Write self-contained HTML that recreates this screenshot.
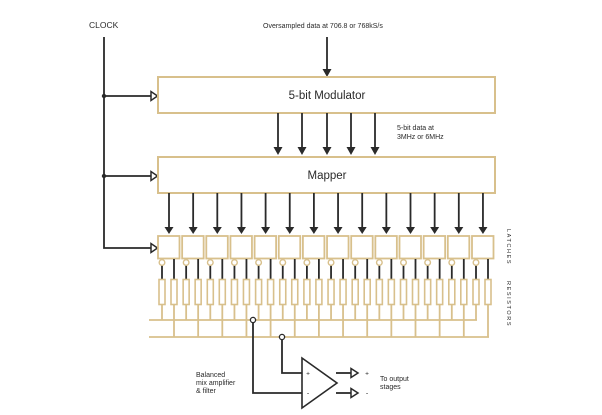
<!DOCTYPE html>
<html>
<head>
<meta charset="utf-8">
<style>
html,body{margin:0;padding:0;background:#fff;}
svg{display:block;}
text{font-family:"Liberation Sans",sans-serif;fill:#2a2a2a;}
</style>
</head>
<body>
<svg width="602" height="415" viewBox="0 0 602 415" xmlns="http://www.w3.org/2000/svg">
<rect width="602" height="415" fill="#fff"/>

<!-- Labels top -->
<text x="89" y="28" font-size="8.5">CLOCK</text>
<text x="263" y="28" font-size="7">Oversampled data at 706.8 or 768kS/s</text>

<!-- Clock line -->
<g stroke="#2a2a2a" stroke-width="1.8" fill="none">
  <polyline points="104,37 104,248 151,248"/>
  <line x1="104" y1="96" x2="151" y2="96"/>
  <line x1="104" y1="176" x2="151" y2="176"/>
</g>
<g stroke="#2a2a2a" stroke-width="1.5" fill="#fff">
  <polygon points="151,91.5 151,100.5 157.5,96"/>
  <polygon points="151,171.5 151,180.5 157.5,176"/>
  <polygon points="151,243.5 151,252.5 157.5,248"/>
</g>
<circle cx="104" cy="96" r="2.2" fill="#2a2a2a"/>
<circle cx="104" cy="176" r="2.2" fill="#2a2a2a"/>

<!-- Input arrow -->
<line x1="327" y1="37" x2="327" y2="70" stroke="#2a2a2a" stroke-width="1.8"/>
<polygon points="322.5,69 331.5,69 327,77" fill="#2a2a2a"/>

<!-- Modulator box -->
<rect x="158" y="77" width="337" height="36" fill="#fff" stroke="#d8c08c" stroke-width="2"/>
<text x="327" y="99" font-size="11.5" text-anchor="middle">5-bit Modulator</text>

<!-- modulator arrows -->
<g stroke="#2a2a2a" stroke-width="1.8">
  <line x1="278" y1="113" x2="278" y2="149"/>
  <line x1="302" y1="113" x2="302" y2="149"/>
  <line x1="327" y1="113" x2="327" y2="149"/>
  <line x1="351" y1="113" x2="351" y2="149"/>
  <line x1="375" y1="113" x2="375" y2="149"/>
</g>
<g fill="#2a2a2a">
  <polygon points="273.5,147 282.5,147 278,155"/>
  <polygon points="297.5,147 306.5,147 302,155"/>
  <polygon points="322.5,147 331.5,147 327,155"/>
  <polygon points="346.5,147 355.5,147 351,155"/>
  <polygon points="370.5,147 379.5,147 375,155"/>
</g>
<text x="397" y="130" font-size="7">5-bit data at</text>
<text x="397" y="139" font-size="7">3MHz or 6MHz</text>

<!-- Mapper box -->
<rect x="158" y="157" width="337" height="36" fill="#fff" stroke="#d8c08c" stroke-width="2"/>
<text x="327" y="179" font-size="11.5" text-anchor="middle">Mapper</text>

<!-- Mapper arrows -->
<g stroke="#2a2a2a" stroke-width="1.8">
  <line x1="169" y1="193" x2="169" y2="229"/>
  <line x1="193.15" y1="193" x2="193.15" y2="229"/>
  <line x1="217.3" y1="193" x2="217.3" y2="229"/>
  <line x1="241.45" y1="193" x2="241.45" y2="229"/>
  <line x1="265.6" y1="193" x2="265.6" y2="229"/>
  <line x1="289.75" y1="193" x2="289.75" y2="229"/>
  <line x1="313.9" y1="193" x2="313.9" y2="229"/>
  <line x1="338.05" y1="193" x2="338.05" y2="229"/>
  <line x1="362.2" y1="193" x2="362.2" y2="229"/>
  <line x1="386.35" y1="193" x2="386.35" y2="229"/>
  <line x1="410.5" y1="193" x2="410.5" y2="229"/>
  <line x1="434.65" y1="193" x2="434.65" y2="229"/>
  <line x1="458.8" y1="193" x2="458.8" y2="229"/>
  <line x1="482.95" y1="193" x2="482.95" y2="229"/>
</g>
<g fill="#2a2a2a">
  <polygon points="164.5,227 173.5,227 169,234"/>
  <polygon points="188.65,227 197.65,227 193.15,234"/>
  <polygon points="212.8,227 221.8,227 217.3,234"/>
  <polygon points="236.95,227 245.95,227 241.45,234"/>
  <polygon points="261.1,227 270.1,227 265.6,234"/>
  <polygon points="285.25,227 294.25,227 289.75,234"/>
  <polygon points="309.4,227 318.4,227 313.9,234"/>
  <polygon points="333.55,227 342.55,227 338.05,234"/>
  <polygon points="357.7,227 366.7,227 362.2,234"/>
  <polygon points="381.85,227 390.85,227 386.35,234"/>
  <polygon points="406,227 415,227 410.5,234"/>
  <polygon points="430.15,227 439.15,227 434.65,234"/>
  <polygon points="454.3,227 463.3,227 458.8,234"/>
  <polygon points="478.45,227 487.45,227 482.95,234"/>
</g>

<!-- Buses -->
<g stroke="#d8c08c" stroke-width="1.8" fill="none">
  <line x1="149" y1="320" x2="477" y2="320"/>
  <line x1="149" y1="337" x2="489" y2="337"/>
</g>

<!-- latch units -->
<g stroke-width="1.8">
<g transform="translate(158,0)"><rect x="0" y="236" width="21.5" height="22.5" fill="#fff" stroke="#d8c08c" stroke-width="1.8"/><line x1="4" y1="265.5" x2="4" y2="279" stroke="#2a2a2a"/><line x1="16" y1="259" x2="16" y2="279" stroke="#2a2a2a"/><circle cx="4" cy="262.5" r="2.8" fill="#fff" stroke="#d8c08c" stroke-width="1.4"/><rect x="1" y="279.5" width="6" height="25" fill="#fff" stroke="#d8c08c" stroke-width="1.6"/><rect x="13" y="279.5" width="6" height="25" fill="#fff" stroke="#d8c08c" stroke-width="1.6"/><line x1="4" y1="304.5" x2="4" y2="320" stroke="#d8c08c"/><line x1="16" y1="304.5" x2="16" y2="337" stroke="#d8c08c"/></g>
<g transform="translate(182.15,0)"><rect x="0" y="236" width="21.5" height="22.5" fill="#fff" stroke="#d8c08c" stroke-width="1.8"/><line x1="4" y1="265.5" x2="4" y2="279" stroke="#2a2a2a"/><line x1="16" y1="259" x2="16" y2="279" stroke="#2a2a2a"/><circle cx="4" cy="262.5" r="2.8" fill="#fff" stroke="#d8c08c" stroke-width="1.4"/><rect x="1" y="279.5" width="6" height="25" fill="#fff" stroke="#d8c08c" stroke-width="1.6"/><rect x="13" y="279.5" width="6" height="25" fill="#fff" stroke="#d8c08c" stroke-width="1.6"/><line x1="4" y1="304.5" x2="4" y2="320" stroke="#d8c08c"/><line x1="16" y1="304.5" x2="16" y2="337" stroke="#d8c08c"/></g>
<g transform="translate(206.3,0)"><rect x="0" y="236" width="21.5" height="22.5" fill="#fff" stroke="#d8c08c" stroke-width="1.8"/><line x1="4" y1="265.5" x2="4" y2="279" stroke="#2a2a2a"/><line x1="16" y1="259" x2="16" y2="279" stroke="#2a2a2a"/><circle cx="4" cy="262.5" r="2.8" fill="#fff" stroke="#d8c08c" stroke-width="1.4"/><rect x="1" y="279.5" width="6" height="25" fill="#fff" stroke="#d8c08c" stroke-width="1.6"/><rect x="13" y="279.5" width="6" height="25" fill="#fff" stroke="#d8c08c" stroke-width="1.6"/><line x1="4" y1="304.5" x2="4" y2="320" stroke="#d8c08c"/><line x1="16" y1="304.5" x2="16" y2="337" stroke="#d8c08c"/></g>
<g transform="translate(230.45,0)"><rect x="0" y="236" width="21.5" height="22.5" fill="#fff" stroke="#d8c08c" stroke-width="1.8"/><line x1="4" y1="265.5" x2="4" y2="279" stroke="#2a2a2a"/><line x1="16" y1="259" x2="16" y2="279" stroke="#2a2a2a"/><circle cx="4" cy="262.5" r="2.8" fill="#fff" stroke="#d8c08c" stroke-width="1.4"/><rect x="1" y="279.5" width="6" height="25" fill="#fff" stroke="#d8c08c" stroke-width="1.6"/><rect x="13" y="279.5" width="6" height="25" fill="#fff" stroke="#d8c08c" stroke-width="1.6"/><line x1="4" y1="304.5" x2="4" y2="320" stroke="#d8c08c"/><line x1="16" y1="304.5" x2="16" y2="337" stroke="#d8c08c"/></g>
<g transform="translate(254.6,0)"><rect x="0" y="236" width="21.5" height="22.5" fill="#fff" stroke="#d8c08c" stroke-width="1.8"/><line x1="4" y1="265.5" x2="4" y2="279" stroke="#2a2a2a"/><line x1="16" y1="259" x2="16" y2="279" stroke="#2a2a2a"/><circle cx="4" cy="262.5" r="2.8" fill="#fff" stroke="#d8c08c" stroke-width="1.4"/><rect x="1" y="279.5" width="6" height="25" fill="#fff" stroke="#d8c08c" stroke-width="1.6"/><rect x="13" y="279.5" width="6" height="25" fill="#fff" stroke="#d8c08c" stroke-width="1.6"/><line x1="4" y1="304.5" x2="4" y2="320" stroke="#d8c08c"/><line x1="16" y1="304.5" x2="16" y2="337" stroke="#d8c08c"/></g>
<g transform="translate(278.75,0)"><rect x="0" y="236" width="21.5" height="22.5" fill="#fff" stroke="#d8c08c" stroke-width="1.8"/><line x1="4" y1="265.5" x2="4" y2="279" stroke="#2a2a2a"/><line x1="16" y1="259" x2="16" y2="279" stroke="#2a2a2a"/><circle cx="4" cy="262.5" r="2.8" fill="#fff" stroke="#d8c08c" stroke-width="1.4"/><rect x="1" y="279.5" width="6" height="25" fill="#fff" stroke="#d8c08c" stroke-width="1.6"/><rect x="13" y="279.5" width="6" height="25" fill="#fff" stroke="#d8c08c" stroke-width="1.6"/><line x1="4" y1="304.5" x2="4" y2="320" stroke="#d8c08c"/><line x1="16" y1="304.5" x2="16" y2="337" stroke="#d8c08c"/></g>
<g transform="translate(302.9,0)"><rect x="0" y="236" width="21.5" height="22.5" fill="#fff" stroke="#d8c08c" stroke-width="1.8"/><line x1="4" y1="265.5" x2="4" y2="279" stroke="#2a2a2a"/><line x1="16" y1="259" x2="16" y2="279" stroke="#2a2a2a"/><circle cx="4" cy="262.5" r="2.8" fill="#fff" stroke="#d8c08c" stroke-width="1.4"/><rect x="1" y="279.5" width="6" height="25" fill="#fff" stroke="#d8c08c" stroke-width="1.6"/><rect x="13" y="279.5" width="6" height="25" fill="#fff" stroke="#d8c08c" stroke-width="1.6"/><line x1="4" y1="304.5" x2="4" y2="320" stroke="#d8c08c"/><line x1="16" y1="304.5" x2="16" y2="337" stroke="#d8c08c"/></g>
<g transform="translate(327.05,0)"><rect x="0" y="236" width="21.5" height="22.5" fill="#fff" stroke="#d8c08c" stroke-width="1.8"/><line x1="4" y1="265.5" x2="4" y2="279" stroke="#2a2a2a"/><line x1="16" y1="259" x2="16" y2="279" stroke="#2a2a2a"/><circle cx="4" cy="262.5" r="2.8" fill="#fff" stroke="#d8c08c" stroke-width="1.4"/><rect x="1" y="279.5" width="6" height="25" fill="#fff" stroke="#d8c08c" stroke-width="1.6"/><rect x="13" y="279.5" width="6" height="25" fill="#fff" stroke="#d8c08c" stroke-width="1.6"/><line x1="4" y1="304.5" x2="4" y2="320" stroke="#d8c08c"/><line x1="16" y1="304.5" x2="16" y2="337" stroke="#d8c08c"/></g>
<g transform="translate(351.2,0)"><rect x="0" y="236" width="21.5" height="22.5" fill="#fff" stroke="#d8c08c" stroke-width="1.8"/><line x1="4" y1="265.5" x2="4" y2="279" stroke="#2a2a2a"/><line x1="16" y1="259" x2="16" y2="279" stroke="#2a2a2a"/><circle cx="4" cy="262.5" r="2.8" fill="#fff" stroke="#d8c08c" stroke-width="1.4"/><rect x="1" y="279.5" width="6" height="25" fill="#fff" stroke="#d8c08c" stroke-width="1.6"/><rect x="13" y="279.5" width="6" height="25" fill="#fff" stroke="#d8c08c" stroke-width="1.6"/><line x1="4" y1="304.5" x2="4" y2="320" stroke="#d8c08c"/><line x1="16" y1="304.5" x2="16" y2="337" stroke="#d8c08c"/></g>
<g transform="translate(375.35,0)"><rect x="0" y="236" width="21.5" height="22.5" fill="#fff" stroke="#d8c08c" stroke-width="1.8"/><line x1="4" y1="265.5" x2="4" y2="279" stroke="#2a2a2a"/><line x1="16" y1="259" x2="16" y2="279" stroke="#2a2a2a"/><circle cx="4" cy="262.5" r="2.8" fill="#fff" stroke="#d8c08c" stroke-width="1.4"/><rect x="1" y="279.5" width="6" height="25" fill="#fff" stroke="#d8c08c" stroke-width="1.6"/><rect x="13" y="279.5" width="6" height="25" fill="#fff" stroke="#d8c08c" stroke-width="1.6"/><line x1="4" y1="304.5" x2="4" y2="320" stroke="#d8c08c"/><line x1="16" y1="304.5" x2="16" y2="337" stroke="#d8c08c"/></g>
<g transform="translate(399.5,0)"><rect x="0" y="236" width="21.5" height="22.5" fill="#fff" stroke="#d8c08c" stroke-width="1.8"/><line x1="4" y1="265.5" x2="4" y2="279" stroke="#2a2a2a"/><line x1="16" y1="259" x2="16" y2="279" stroke="#2a2a2a"/><circle cx="4" cy="262.5" r="2.8" fill="#fff" stroke="#d8c08c" stroke-width="1.4"/><rect x="1" y="279.5" width="6" height="25" fill="#fff" stroke="#d8c08c" stroke-width="1.6"/><rect x="13" y="279.5" width="6" height="25" fill="#fff" stroke="#d8c08c" stroke-width="1.6"/><line x1="4" y1="304.5" x2="4" y2="320" stroke="#d8c08c"/><line x1="16" y1="304.5" x2="16" y2="337" stroke="#d8c08c"/></g>
<g transform="translate(423.65,0)"><rect x="0" y="236" width="21.5" height="22.5" fill="#fff" stroke="#d8c08c" stroke-width="1.8"/><line x1="4" y1="265.5" x2="4" y2="279" stroke="#2a2a2a"/><line x1="16" y1="259" x2="16" y2="279" stroke="#2a2a2a"/><circle cx="4" cy="262.5" r="2.8" fill="#fff" stroke="#d8c08c" stroke-width="1.4"/><rect x="1" y="279.5" width="6" height="25" fill="#fff" stroke="#d8c08c" stroke-width="1.6"/><rect x="13" y="279.5" width="6" height="25" fill="#fff" stroke="#d8c08c" stroke-width="1.6"/><line x1="4" y1="304.5" x2="4" y2="320" stroke="#d8c08c"/><line x1="16" y1="304.5" x2="16" y2="337" stroke="#d8c08c"/></g>
<g transform="translate(447.8,0)"><rect x="0" y="236" width="21.5" height="22.5" fill="#fff" stroke="#d8c08c" stroke-width="1.8"/><line x1="4" y1="265.5" x2="4" y2="279" stroke="#2a2a2a"/><line x1="16" y1="259" x2="16" y2="279" stroke="#2a2a2a"/><circle cx="4" cy="262.5" r="2.8" fill="#fff" stroke="#d8c08c" stroke-width="1.4"/><rect x="1" y="279.5" width="6" height="25" fill="#fff" stroke="#d8c08c" stroke-width="1.6"/><rect x="13" y="279.5" width="6" height="25" fill="#fff" stroke="#d8c08c" stroke-width="1.6"/><line x1="4" y1="304.5" x2="4" y2="320" stroke="#d8c08c"/><line x1="16" y1="304.5" x2="16" y2="337" stroke="#d8c08c"/></g>
<g transform="translate(472,0)"><rect x="0" y="236" width="21.5" height="22.5" fill="#fff" stroke="#d8c08c" stroke-width="1.8"/><line x1="4" y1="265.5" x2="4" y2="279" stroke="#2a2a2a"/><line x1="16" y1="259" x2="16" y2="279" stroke="#2a2a2a"/><circle cx="4" cy="262.5" r="2.8" fill="#fff" stroke="#d8c08c" stroke-width="1.4"/><rect x="1" y="279.5" width="6" height="25" fill="#fff" stroke="#d8c08c" stroke-width="1.6"/><rect x="13" y="279.5" width="6" height="25" fill="#fff" stroke="#d8c08c" stroke-width="1.6"/><line x1="4" y1="304.5" x2="4" y2="320" stroke="#d8c08c"/><line x1="16" y1="304.5" x2="16" y2="337" stroke="#d8c08c"/></g>
</g>

<!-- side labels -->
<text transform="translate(507,229) rotate(90)" font-size="5.5" letter-spacing="1.6" fill="#555">LATCHES</text>
<text transform="translate(507,281) rotate(90)" font-size="5.5" letter-spacing="1.6" fill="#555">RESISTORS</text>

<!-- amplifier connections -->
<g stroke="#2a2a2a" stroke-width="1.8" fill="none">
  <polyline points="253,323 253,393 302,393"/>
  <polyline points="282,340 282,373 302,373"/>
  <line x1="336" y1="373" x2="351" y2="373"/>
  <line x1="336" y1="393" x2="351" y2="393"/>
</g>
<circle cx="253" cy="320" r="2.6" fill="#fff" stroke="#2a2a2a" stroke-width="1.3"/>
<circle cx="282" cy="337" r="2.6" fill="#fff" stroke="#2a2a2a" stroke-width="1.3"/>
<polygon points="302,358 302,408 337,383" fill="#fff" stroke="#2a2a2a" stroke-width="1.6"/>
<g stroke="#2a2a2a" stroke-width="1.5" fill="#fff">
  <polygon points="351,368.5 351,377.5 358,373"/>
  <polygon points="351,388.5 351,397.5 358,393"/>
</g>
<text x="308" y="375.5" font-size="6.5" text-anchor="middle">+</text>
<text x="308" y="395.5" font-size="7" text-anchor="middle">-</text>
<text x="367" y="375.5" font-size="6.5" text-anchor="middle">+</text>
<text x="367" y="395.5" font-size="7" text-anchor="middle">-</text>

<text x="380" y="381" font-size="7">To output</text>
<text x="380" y="389" font-size="7">stages</text>

<text x="196" y="377" font-size="7">Balanced</text>
<text x="196" y="385" font-size="7">mix amplifier</text>
<text x="196" y="393" font-size="7">&amp; filter</text>
</svg>
</body>
</html>
